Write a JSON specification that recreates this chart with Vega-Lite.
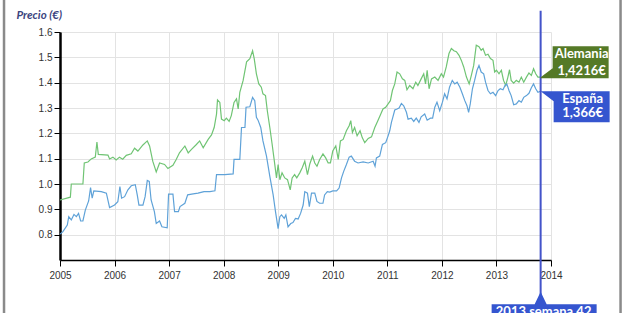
{
  "$schema": "https://vega.github.io/schema/vega-lite/v6.json",
  "width": 491,
  "height": 228,
  "autosize": "none",
  "padding": {"left": 60, "top": 32, "right": 75, "bottom": 53},
  "background": "white",
  "config": {"view": {"stroke": null}, "font": "Liberation Sans"},
  "datasets": {
    "precios": [
      {"pais":"Alemania","anio":2005.0,"precio":0.937},{"pais":"Alemania","anio":2005.19,"precio":0.948},{"pais":"Alemania","anio":2005.207,"precio":1.0},{"pais":"Alemania","anio":2005.42,"precio":1.0},{"pais":"Alemania","anio":2005.445,"precio":1.083},{"pais":"Alemania","anio":2005.512,"precio":1.087},{"pais":"Alemania","anio":2005.573,"precio":1.099},{"pais":"Alemania","anio":2005.647,"precio":1.106},{"pais":"Alemania","anio":2005.677,"precio":1.166},{"pais":"Alemania","anio":2005.702,"precio":1.117},{"pais":"Alemania","anio":2005.879,"precio":1.114},{"pais":"Alemania","anio":2005.909,"precio":1.099},{"pais":"Alemania","anio":2005.97,"precio":1.106},{"pais":"Alemania","anio":2006.03,"precio":1.095},{"pais":"Alemania","anio":2006.09,"precio":1.106},{"pais":"Alemania","anio":2006.15,"precio":1.098},{"pais":"Alemania","anio":2006.215,"precio":1.113},{"pais":"Alemania","anio":2006.306,"precio":1.119},{"pais":"Alemania","anio":2006.367,"precio":1.141},{"pais":"Alemania","anio":2006.428,"precio":1.13},{"pais":"Alemania","anio":2006.52,"precio":1.154},{"pais":"Alemania","anio":2006.6,"precio":1.17},{"pais":"Alemania","anio":2006.642,"precio":1.15},{"pais":"Alemania","anio":2006.7,"precio":1.09},{"pais":"Alemania","anio":2006.764,"precio":1.048},{"pais":"Alemania","anio":2006.825,"precio":1.083},{"pais":"Alemania","anio":2006.917,"precio":1.077},{"pais":"Alemania","anio":2006.978,"precio":1.061},{"pais":"Alemania","anio":2007.07,"precio":1.074},{"pais":"Alemania","anio":2007.13,"precio":1.097},{"pais":"Alemania","anio":2007.19,"precio":1.123},{"pais":"Alemania","anio":2007.289,"precio":1.15},{"pais":"Alemania","anio":2007.35,"precio":1.123},{"pais":"Alemania","anio":2007.41,"precio":1.137},{"pais":"Alemania","anio":2007.5,"precio":1.156},{"pais":"Alemania","anio":2007.56,"precio":1.17},{"pais":"Alemania","anio":2007.625,"precio":1.143},{"pais":"Alemania","anio":2007.716,"precio":1.176},{"pais":"Alemania","anio":2007.777,"precio":1.194},{"pais":"Alemania","anio":2007.826,"precio":1.223},{"pais":"Alemania","anio":2007.869,"precio":1.276},{"pais":"Alemania","anio":2007.887,"precio":1.332},{"pais":"Alemania","anio":2007.93,"precio":1.322},{"pais":"Alemania","anio":2007.96,"precio":1.256},{"pais":"Alemania","anio":2008.01,"precio":1.25},{"pais":"Alemania","anio":2008.05,"precio":1.26},{"pais":"Alemania","anio":2008.1,"precio":1.247},{"pais":"Alemania","anio":2008.14,"precio":1.27},{"pais":"Alemania","anio":2008.19,"precio":1.322},{"pais":"Alemania","anio":2008.235,"precio":1.336},{"pais":"Alemania","anio":2008.266,"precio":1.296},{"pais":"Alemania","anio":2008.296,"precio":1.362},{"pais":"Alemania","anio":2008.357,"precio":1.409},{"pais":"Alemania","anio":2008.42,"precio":1.482},{"pais":"Alemania","anio":2008.48,"precio":1.495},{"pais":"Alemania","anio":2008.53,"precio":1.526},{"pais":"Alemania","anio":2008.56,"precio":1.495},{"pais":"Alemania","anio":2008.6,"precio":1.435},{"pais":"Alemania","anio":2008.644,"precio":1.395},{"pais":"Alemania","anio":2008.69,"precio":1.382},{"pais":"Alemania","anio":2008.72,"precio":1.356},{"pais":"Alemania","anio":2008.767,"precio":1.349},{"pais":"Alemania","anio":2008.8,"precio":1.289},{"pais":"Alemania","anio":2008.846,"precio":1.223},{"pais":"Alemania","anio":2008.889,"precio":1.156},{"pais":"Alemania","anio":2008.925,"precio":1.097},{"pais":"Alemania","anio":2008.968,"precio":1.024},{"pais":"Alemania","anio":2008.998,"precio":1.077},{"pais":"Alemania","anio":2009.03,"precio":1.017},{"pais":"Alemania","anio":2009.07,"precio":1.044},{"pais":"Alemania","anio":2009.12,"precio":1.024},{"pais":"Alemania","anio":2009.17,"precio":1.017},{"pais":"Alemania","anio":2009.22,"precio":0.977},{"pais":"Alemania","anio":2009.255,"precio":1.024},{"pais":"Alemania","anio":2009.3,"precio":1.037},{"pais":"Alemania","anio":2009.34,"precio":1.024},{"pais":"Alemania","anio":2009.395,"precio":1.044},{"pais":"Alemania","anio":2009.44,"precio":1.064},{"pais":"Alemania","anio":2009.487,"precio":1.09},{"pais":"Alemania","anio":2009.536,"precio":1.037},{"pais":"Alemania","anio":2009.58,"precio":1.08},{"pais":"Alemania","anio":2009.63,"precio":1.11},{"pais":"Alemania","anio":2009.67,"precio":1.083},{"pais":"Alemania","anio":2009.71,"precio":1.07},{"pais":"Alemania","anio":2009.76,"precio":1.097},{"pais":"Alemania","anio":2009.82,"precio":1.119},{"pais":"Alemania","anio":2009.87,"precio":1.103},{"pais":"Alemania","anio":2009.915,"precio":1.083},{"pais":"Alemania","anio":2009.957,"precio":1.083},{"pais":"Alemania","anio":2010.0,"precio":1.13},{"pais":"Alemania","anio":2010.055,"precio":1.15},{"pais":"Alemania","anio":2010.1,"precio":1.097},{"pais":"Alemania","anio":2010.14,"precio":1.17},{"pais":"Alemania","anio":2010.19,"precio":1.176},{"pais":"Alemania","anio":2010.25,"precio":1.21},{"pais":"Alemania","anio":2010.3,"precio":1.23},{"pais":"Alemania","anio":2010.33,"precio":1.25},{"pais":"Alemania","anio":2010.36,"precio":1.203},{"pais":"Alemania","anio":2010.4,"precio":1.223},{"pais":"Alemania","anio":2010.446,"precio":1.19},{"pais":"Alemania","anio":2010.5,"precio":1.21},{"pais":"Alemania","anio":2010.54,"precio":1.183},{"pais":"Alemania","anio":2010.586,"precio":1.163},{"pais":"Alemania","anio":2010.65,"precio":1.18},{"pais":"Alemania","anio":2010.71,"precio":1.186},{"pais":"Alemania","anio":2010.77,"precio":1.223},{"pais":"Alemania","anio":2010.83,"precio":1.252},{"pais":"Alemania","anio":2010.88,"precio":1.276},{"pais":"Alemania","anio":2010.92,"precio":1.296},{"pais":"Alemania","anio":2010.97,"precio":1.303},{"pais":"Alemania","anio":2011.014,"precio":1.316},{"pais":"Alemania","anio":2011.056,"precio":1.329},{"pais":"Alemania","anio":2011.093,"precio":1.369},{"pais":"Alemania","anio":2011.136,"precio":1.395},{"pais":"Alemania","anio":2011.178,"precio":1.442},{"pais":"Alemania","anio":2011.227,"precio":1.435},{"pais":"Alemania","anio":2011.276,"precio":1.415},{"pais":"Alemania","anio":2011.32,"precio":1.409},{"pais":"Alemania","anio":2011.36,"precio":1.372},{"pais":"Alemania","anio":2011.41,"precio":1.389},{"pais":"Alemania","anio":2011.47,"precio":1.376},{"pais":"Alemania","anio":2011.52,"precio":1.402},{"pais":"Alemania","anio":2011.56,"precio":1.389},{"pais":"Alemania","anio":2011.62,"precio":1.415},{"pais":"Alemania","anio":2011.667,"precio":1.435},{"pais":"Alemania","anio":2011.7,"precio":1.395},{"pais":"Alemania","anio":2011.73,"precio":1.449},{"pais":"Alemania","anio":2011.765,"precio":1.376},{"pais":"Alemania","anio":2011.81,"precio":1.415},{"pais":"Alemania","anio":2011.87,"precio":1.422},{"pais":"Alemania","anio":2011.93,"precio":1.409},{"pais":"Alemania","anio":2011.99,"precio":1.435},{"pais":"Alemania","anio":2012.03,"precio":1.422},{"pais":"Alemania","anio":2012.08,"precio":1.462},{"pais":"Alemania","anio":2012.13,"precio":1.515},{"pais":"Alemania","anio":2012.174,"precio":1.535},{"pais":"Alemania","anio":2012.22,"precio":1.526},{"pais":"Alemania","anio":2012.265,"precio":1.522},{"pais":"Alemania","anio":2012.314,"precio":1.508},{"pais":"Alemania","anio":2012.357,"precio":1.488},{"pais":"Alemania","anio":2012.4,"precio":1.462},{"pais":"Alemania","anio":2012.45,"precio":1.422},{"pais":"Alemania","anio":2012.5,"precio":1.395},{"pais":"Alemania","anio":2012.54,"precio":1.429},{"pais":"Alemania","anio":2012.583,"precio":1.468},{"pais":"Alemania","anio":2012.63,"precio":1.548},{"pais":"Alemania","anio":2012.68,"precio":1.542},{"pais":"Alemania","anio":2012.72,"precio":1.528},{"pais":"Alemania","anio":2012.754,"precio":1.535},{"pais":"Alemania","anio":2012.8,"precio":1.508},{"pais":"Alemania","anio":2012.845,"precio":1.512},{"pais":"Alemania","anio":2012.89,"precio":1.495},{"pais":"Alemania","anio":2012.937,"precio":1.488},{"pais":"Alemania","anio":2012.967,"precio":1.442},{"pais":"Alemania","anio":2013.0,"precio":1.449},{"pais":"Alemania","anio":2013.047,"precio":1.435},{"pais":"Alemania","anio":2013.09,"precio":1.449},{"pais":"Alemania","anio":2013.13,"precio":1.409},{"pais":"Alemania","anio":2013.17,"precio":1.389},{"pais":"Alemania","anio":2013.21,"precio":1.422},{"pais":"Alemania","anio":2013.24,"precio":1.451},{"pais":"Alemania","anio":2013.27,"precio":1.409},{"pais":"Alemania","anio":2013.316,"precio":1.398},{"pais":"Alemania","anio":2013.364,"precio":1.409},{"pais":"Alemania","anio":2013.413,"precio":1.402},{"pais":"Alemania","anio":2013.456,"precio":1.422},{"pais":"Alemania","anio":2013.5,"precio":1.402},{"pais":"Alemania","anio":2013.55,"precio":1.422},{"pais":"Alemania","anio":2013.596,"precio":1.438},{"pais":"Alemania","anio":2013.64,"precio":1.429},{"pais":"Alemania","anio":2013.68,"precio":1.455},{"pais":"Alemania","anio":2013.72,"precio":1.435},{"pais":"Alemania","anio":2013.76,"precio":1.422},{"pais":"Alemania","anio":2013.81,"precio":1.4216},
      {"pais":"España","anio":2005.0,"precio":0.802},{"pais":"España","anio":2005.05,"precio":0.811},{"pais":"España","anio":2005.134,"precio":0.838},{"pais":"España","anio":2005.16,"precio":0.871},{"pais":"España","anio":2005.207,"precio":0.858},{"pais":"España","anio":2005.256,"precio":0.88},{"pais":"España","anio":2005.3,"precio":0.871},{"pais":"España","anio":2005.34,"precio":0.884},{"pais":"España","anio":2005.378,"precio":0.854},{"pais":"España","anio":2005.42,"precio":0.854},{"pais":"España","anio":2005.464,"precio":0.897},{"pais":"España","anio":2005.525,"precio":0.933},{"pais":"España","anio":2005.56,"precio":0.986},{"pais":"España","anio":2005.59,"precio":0.944},{"pais":"España","anio":2005.62,"precio":0.973},{"pais":"España","anio":2005.757,"precio":0.97},{"pais":"España","anio":2005.85,"precio":0.964},{"pais":"España","anio":2005.909,"precio":0.907},{"pais":"España","anio":2006.0,"precio":0.917},{"pais":"España","anio":2006.06,"precio":0.93},{"pais":"España","anio":2006.098,"precio":0.99},{"pais":"España","anio":2006.129,"precio":0.944},{"pais":"España","anio":2006.184,"precio":0.95},{"pais":"España","anio":2006.245,"precio":0.977},{"pais":"España","anio":2006.306,"precio":0.993},{"pais":"España","anio":2006.38,"precio":0.997},{"pais":"España","anio":2006.416,"precio":0.957},{"pais":"España","anio":2006.447,"precio":0.917},{"pais":"España","anio":2006.52,"precio":0.917},{"pais":"España","anio":2006.56,"precio":0.95},{"pais":"España","anio":2006.6,"precio":1.014},{"pais":"España","anio":2006.636,"precio":1.01},{"pais":"España","anio":2006.67,"precio":0.937},{"pais":"España","anio":2006.73,"precio":0.891},{"pais":"España","anio":2006.764,"precio":0.844},{"pais":"España","anio":2006.825,"precio":0.854},{"pais":"España","anio":2006.868,"precio":0.831},{"pais":"España","anio":2006.965,"precio":0.827},{"pais":"España","anio":2006.99,"precio":0.96},{"pais":"España","anio":2007.07,"precio":0.96},{"pais":"España","anio":2007.1,"precio":0.891},{"pais":"España","anio":2007.17,"precio":0.891},{"pais":"España","anio":2007.2,"precio":0.911},{"pais":"España","anio":2007.289,"precio":0.924},{"pais":"España","anio":2007.34,"precio":0.957},{"pais":"España","anio":2007.44,"precio":0.961},{"pais":"España","anio":2007.53,"precio":0.964},{"pais":"España","anio":2007.64,"precio":0.97},{"pais":"España","anio":2007.747,"precio":0.97},{"pais":"España","anio":2007.84,"precio":0.973},{"pais":"España","anio":2007.869,"precio":1.037},{"pais":"España","anio":2008.02,"precio":1.037},{"pais":"España","anio":2008.174,"precio":1.04},{"pais":"España","anio":2008.19,"precio":1.097},{"pais":"España","anio":2008.296,"precio":1.097},{"pais":"España","anio":2008.327,"precio":1.223},{"pais":"España","anio":2008.39,"precio":1.223},{"pais":"España","anio":2008.41,"precio":1.303},{"pais":"España","anio":2008.48,"precio":1.305},{"pais":"España","anio":2008.53,"precio":1.342},{"pais":"España","anio":2008.57,"precio":1.329},{"pais":"España","anio":2008.6,"precio":1.263},{"pais":"España","anio":2008.63,"precio":1.252},{"pais":"España","anio":2008.68,"precio":1.223},{"pais":"España","anio":2008.72,"precio":1.17},{"pais":"España","anio":2008.785,"precio":1.11},{"pais":"España","anio":2008.846,"precio":1.03},{"pais":"España","anio":2008.907,"precio":0.957},{"pais":"España","anio":2008.95,"precio":0.891},{"pais":"España","anio":2008.998,"precio":0.824},{"pais":"España","anio":2009.03,"precio":0.871},{"pais":"España","anio":2009.06,"precio":0.878},{"pais":"España","anio":2009.11,"precio":0.864},{"pais":"España","anio":2009.14,"precio":0.878},{"pais":"España","anio":2009.18,"precio":0.831},{"pais":"España","anio":2009.23,"precio":0.844},{"pais":"España","anio":2009.27,"precio":0.848},{"pais":"España","anio":2009.316,"precio":0.864},{"pais":"España","anio":2009.365,"precio":0.862},{"pais":"España","anio":2009.41,"precio":0.884},{"pais":"España","anio":2009.457,"precio":0.917},{"pais":"España","anio":2009.487,"precio":0.97},{"pais":"España","anio":2009.536,"precio":0.964},{"pais":"España","anio":2009.57,"precio":0.911},{"pais":"España","anio":2009.61,"precio":0.964},{"pais":"España","anio":2009.67,"precio":0.964},{"pais":"España","anio":2009.71,"precio":0.931},{"pais":"España","anio":2009.76,"precio":0.924},{"pais":"España","anio":2009.82,"precio":0.924},{"pais":"España","anio":2009.85,"precio":0.957},{"pais":"España","anio":2009.9,"precio":0.97},{"pais":"España","anio":2009.945,"precio":0.968},{"pais":"España","anio":2010.0,"precio":0.973},{"pais":"España","anio":2010.07,"precio":0.973},{"pais":"España","anio":2010.116,"precio":0.984},{"pais":"España","anio":2010.16,"precio":1.024},{"pais":"España","anio":2010.2,"precio":1.05},{"pais":"España","anio":2010.25,"precio":1.077},{"pais":"España","anio":2010.3,"precio":1.106},{"pais":"España","anio":2010.34,"precio":1.11},{"pais":"España","anio":2010.4,"precio":1.09},{"pais":"España","anio":2010.464,"precio":1.083},{"pais":"España","anio":2010.555,"precio":1.087},{"pais":"España","anio":2010.65,"precio":1.083},{"pais":"España","anio":2010.74,"precio":1.09},{"pais":"España","anio":2010.775,"precio":1.07},{"pais":"España","anio":2010.8,"precio":1.103},{"pais":"España","anio":2010.86,"precio":1.11},{"pais":"España","anio":2010.91,"precio":1.156},{"pais":"España","anio":2010.97,"precio":1.163},{"pais":"España","anio":2011.014,"precio":1.19},{"pais":"España","anio":2011.044,"precio":1.21},{"pais":"España","anio":2011.075,"precio":1.243},{"pais":"España","anio":2011.1,"precio":1.263},{"pais":"España","anio":2011.136,"precio":1.292},{"pais":"España","anio":2011.178,"precio":1.296},{"pais":"España","anio":2011.215,"precio":1.3},{"pais":"España","anio":2011.258,"precio":1.318},{"pais":"España","anio":2011.3,"precio":1.309},{"pais":"España","anio":2011.35,"precio":1.283},{"pais":"España","anio":2011.38,"precio":1.256},{"pais":"España","anio":2011.44,"precio":1.26},{"pais":"España","anio":2011.484,"precio":1.247},{"pais":"España","anio":2011.53,"precio":1.26},{"pais":"España","anio":2011.58,"precio":1.243},{"pais":"España","anio":2011.62,"precio":1.265},{"pais":"España","anio":2011.685,"precio":1.276},{"pais":"España","anio":2011.73,"precio":1.252},{"pais":"España","anio":2011.79,"precio":1.26},{"pais":"España","anio":2011.83,"precio":1.26},{"pais":"España","anio":2011.87,"precio":1.303},{"pais":"España","anio":2011.91,"precio":1.323},{"pais":"España","anio":2011.96,"precio":1.289},{"pais":"España","anio":2012.01,"precio":1.323},{"pais":"España","anio":2012.05,"precio":1.356},{"pais":"España","anio":2012.094,"precio":1.336},{"pais":"España","anio":2012.14,"precio":1.382},{"pais":"España","anio":2012.19,"precio":1.409},{"pais":"España","anio":2012.235,"precio":1.395},{"pais":"España","anio":2012.28,"precio":1.402},{"pais":"España","anio":2012.33,"precio":1.382},{"pais":"España","anio":2012.375,"precio":1.356},{"pais":"España","anio":2012.42,"precio":1.329},{"pais":"España","anio":2012.46,"precio":1.309},{"pais":"España","anio":2012.49,"precio":1.283},{"pais":"España","anio":2012.52,"precio":1.316},{"pais":"España","anio":2012.56,"precio":1.376},{"pais":"España","anio":2012.6,"precio":1.409},{"pais":"España","anio":2012.644,"precio":1.449},{"pais":"España","anio":2012.68,"precio":1.468},{"pais":"España","anio":2012.72,"precio":1.442},{"pais":"España","anio":2012.766,"precio":1.435},{"pais":"España","anio":2012.8,"precio":1.402},{"pais":"España","anio":2012.845,"precio":1.369},{"pais":"España","anio":2012.89,"precio":1.356},{"pais":"España","anio":2012.937,"precio":1.362},{"pais":"España","anio":2012.985,"precio":1.349},{"pais":"España","anio":2013.03,"precio":1.369},{"pais":"España","anio":2013.07,"precio":1.376},{"pais":"España","anio":2013.12,"precio":1.372},{"pais":"España","anio":2013.157,"precio":1.389},{"pais":"España","anio":2013.19,"precio":1.395},{"pais":"España","anio":2013.23,"precio":1.369},{"pais":"España","anio":2013.27,"precio":1.349},{"pais":"España","anio":2013.316,"precio":1.313},{"pais":"España","anio":2013.364,"precio":1.316},{"pais":"España","anio":2013.413,"precio":1.329},{"pais":"España","anio":2013.456,"precio":1.323},{"pais":"España","anio":2013.5,"precio":1.342},{"pais":"España","anio":2013.55,"precio":1.349},{"pais":"España","anio":2013.596,"precio":1.358},{"pais":"España","anio":2013.64,"precio":1.38},{"pais":"España","anio":2013.68,"precio":1.395},{"pais":"España","anio":2013.72,"precio":1.376},{"pais":"España","anio":2013.76,"precio":1.362},{"pais":"España","anio":2013.81,"precio":1.366}
    ],
    "etiquetas": [
      {"pais": "Alemania", "anio": 2013.81, "precio": 1.4216, "valor": "1,4216€"},
      {"pais": "España", "anio": 2013.81, "precio": 1.366, "valor": "1,366€"}
    ],
    "marcador": [
      {"anio": 2013.81, "precio": 0.7, "texto": "2013 semana 42"}
    ]
  },
  "layer": [
    {
      "data": {"name": "precios"},
      "mark": {"type": "line", "strokeWidth": 1.2},
      "encoding": {
        "x": {
          "field": "anio", "type": "quantitative",
          "scale": {"domain": [2005, 2014], "nice": false, "zero": false},
          "axis": {
            "values": [2005, 2006, 2007, 2008, 2009, 2010, 2011, 2012, 2013, 2014], "tickCount": 20,
            "format": "d", "title": null, "grid": true, "gridColor": "#e3e3e3", "gridWidth": 1,
            "domainColor": "#000000", "domainWidth": 1.5, "tickColor": "#000000", "tickSize": 6, "tickWidth": 1,
            "labelFont": "Liberation Sans", "labelFontSize": 10, "labelColor": "#333333", "labelPadding": 4, "labelFlush": false, "labelOverlap": false
          }
        },
        "y": {
          "field": "precio", "type": "quantitative",
          "scale": {"domain": [0.7, 1.6], "nice": false, "zero": false},
          "axis": {
            "values": [0.8, 0.9, 1.0, 1.1, 1.2, 1.3, 1.4, 1.5, 1.6], "tickCount": 20,
            "format": ".1f", "grid": true, "gridColor": "#e3e3e3", "gridWidth": 1,
            "domainColor": "#000000", "domainWidth": 2.5, "tickColor": "#000000", "tickSize": 6, "tickWidth": 1,
            "labelFont": "Liberation Sans", "labelFontSize": 10, "labelColor": "#333333", "labelPadding": 2, "labelOverlap": false,
            "title": "Precio (€)", "titleAngle": 0, "titleAlign": "left", "titleBaseline": "alphabetic",
            "titleX": -44, "titleY": -14, "titleFont": "Lato", "titleFontStyle": "italic", "titleFontWeight": "bold",
            "titleFontSize": 11.5, "titleColor": "#3c4480"
          }
        },
        "color": {
          "field": "pais", "type": "nominal",
          "scale": {"domain": ["Alemania", "España"], "range": ["#70c474", "#5fa2d8"]},
          "legend": null
        }
      }
    },
    {
      "data": {"name": "marcador"},
      "mark": {"type": "rule", "color": "#4353c9", "strokeWidth": 2, "clip": false},
      "encoding": {
        "x": {"field": "anio", "type": "quantitative"},
        "y": {"datum": 1.684},
        "y2": {"datum": 0.55}
      }
    },
    {
      "data": {"name": "etiquetas"},
      "transform": [{"filter": "datum.pais === 'Alemania'"}],
      "mark": {"type": "point", "filled": true, "opacity": 1, "strokeWidth": 0, "size": 19600, "color": "#557a27", "clip": false,
        "shape": "M0,0 L0.1714,-0.1286 L0.1714,-0.4429 L0.9714,-0.4429 L0.9714,0.0143 L0,0.0143 Z"},
      "encoding": {
        "x": {"field": "anio", "type": "quantitative"},
        "y": {"field": "precio", "type": "quantitative"}
      }
    },
    {
      "data": {"name": "etiquetas"},
      "transform": [{"filter": "datum.pais === 'España'"}],
      "mark": {"type": "point", "filled": true, "opacity": 1, "strokeWidth": 0, "size": 19600, "color": "#3555cf", "clip": false,
        "shape": "M0,0 L0.9857,0 L0.9857,0.4429 L0.1857,0.4429 L0.1857,0.1429 Z"},
      "encoding": {
        "x": {"field": "anio", "type": "quantitative"},
        "y": {"field": "precio", "type": "quantitative"}
      }
    },
    {
      "data": {"name": "etiquetas"},
      "transform": [{"filter": "datum.pais === 'Alemania'"}],
      "mark": {"type": "text", "font": "Lato", "fontWeight": "bold", "fontSize": 13, "color": "#ffffff", "align": "center", "baseline": "alphabetic", "dx": 41, "dy": -19},
      "encoding": {
        "x": {"field": "anio", "type": "quantitative"},
        "y": {"field": "precio", "type": "quantitative"},
        "text": {"field": "pais"}
      }
    },
    {
      "data": {"name": "etiquetas"},
      "transform": [{"filter": "datum.pais === 'Alemania'"}],
      "mark": {"type": "text", "font": "Lato", "fontWeight": "bold", "fontSize": 13, "color": "#ffffff", "align": "center", "baseline": "alphabetic", "dx": 41, "dy": -2},
      "encoding": {
        "x": {"field": "anio", "type": "quantitative"},
        "y": {"field": "precio", "type": "quantitative"},
        "text": {"field": "valor"}
      }
    },
    {
      "data": {"name": "etiquetas"},
      "transform": [{"filter": "datum.pais === 'España'"}],
      "mark": {"type": "text", "font": "Lato", "fontWeight": "bold", "fontSize": 13, "color": "#ffffff", "align": "center", "baseline": "alphabetic", "dx": 42, "dy": 12},
      "encoding": {
        "x": {"field": "anio", "type": "quantitative"},
        "y": {"field": "precio", "type": "quantitative"},
        "text": {"field": "pais"}
      }
    },
    {
      "data": {"name": "etiquetas"},
      "transform": [{"filter": "datum.pais === 'España'"}],
      "mark": {"type": "text", "font": "Lato", "fontWeight": "bold", "fontSize": 13, "color": "#ffffff", "align": "center", "baseline": "alphabetic", "dx": 42, "dy": 26},
      "encoding": {
        "x": {"field": "anio", "type": "quantitative"},
        "y": {"field": "precio", "type": "quantitative"},
        "text": {"field": "valor"}
      }
    },
    {
      "data": {"name": "marcador"},
      "mark": {"type": "point", "filled": true, "opacity": 1, "strokeWidth": 0, "size": 19600, "color": "#3555cf", "clip": false,
        "shape": "M0,0.4529 L0.0857,0.6329 L0.8,0.6329 L0.8,0.9 L-0.7,0.9 L-0.7,0.6329 L-0.0857,0.6329 Z"},
      "encoding": {
        "x": {"field": "anio", "type": "quantitative"},
        "y": {"field": "precio", "type": "quantitative"}
      }
    },
    {
      "data": {"name": "marcador"},
      "mark": {"type": "text", "font": "Lato", "fontWeight": "bold", "fontSize": 13, "color": "#ffffff", "align": "center", "baseline": "alphabetic", "dx": 3, "dy": 56},
      "encoding": {
        "x": {"field": "anio", "type": "quantitative"},
        "y": {"field": "precio", "type": "quantitative"},
        "text": {"field": "texto"}
      }
    },
    {
      "data": {"values": [{}]},
      "mark": {"type": "rule", "color": "#8a8a8a", "strokeWidth": 2.5, "clip": false},
      "encoding": {"x": {"datum": 2003.974}, "y": {"datum": 1.75}, "y2": {"datum": 0.4}}
    },
    {
      "data": {"values": [{}]},
      "mark": {"type": "rule", "color": "#8a8a8a", "strokeWidth": 2.5, "clip": false},
      "encoding": {"x": {"datum": 2015.275}, "y": {"datum": 1.75}, "y2": {"datum": 0.4}}
    }
  ]
}
